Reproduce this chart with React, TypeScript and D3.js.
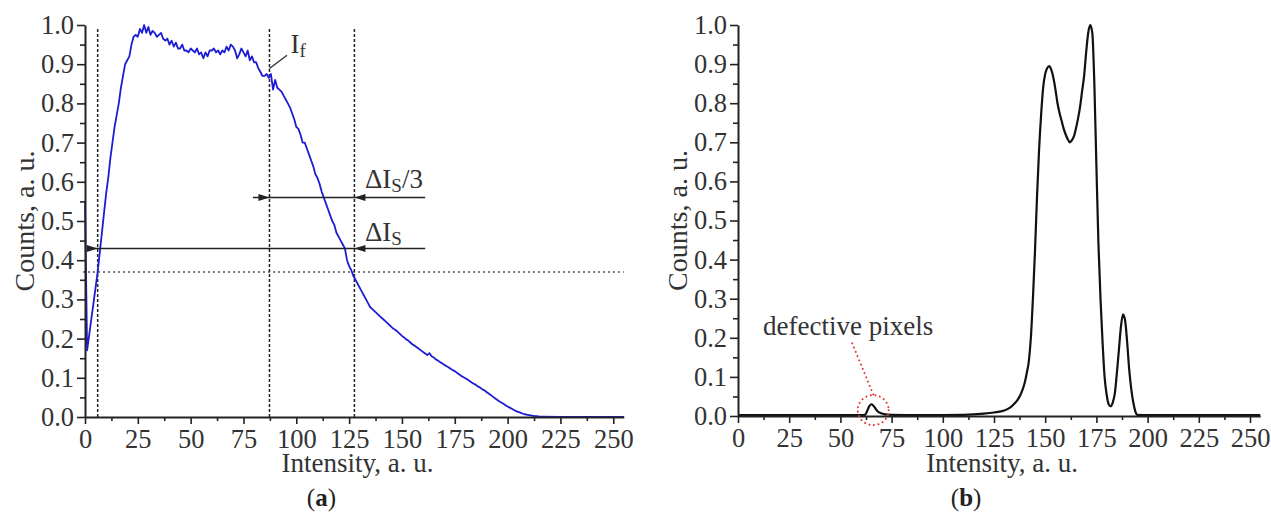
import { useRef, useEffect } from 'react';
import * as d3 from 'd3';

// (a) normalised histogram, one value per intensity level 0..216, zero afterwards
const countsA = [
  0.55, 0.17, 0.21, 0.25, 0.29, 0.33, 0.37, 0.42, 0.47, 0.52,
  0.57, 0.61, 0.66, 0.70, 0.74, 0.77, 0.80, 0.84, 0.87, 0.90,
  0.91, 0.92, 0.95, 0.97, 0.975, 0.97, 0.99, 0.98, 1.0, 0.98,
  0.995, 0.975, 0.985, 0.98, 0.97, 0.975, 0.98, 0.965, 0.96, 0.965,
  0.95, 0.96, 0.945, 0.955, 0.94, 0.94, 0.95, 0.935, 0.935, 0.93,
  0.94, 0.935, 0.93, 0.94, 0.925, 0.93, 0.915, 0.93, 0.92, 0.935,
  0.935, 0.94, 0.93, 0.935, 0.925, 0.935, 0.93, 0.945, 0.935, 0.95,
  0.945, 0.935, 0.915, 0.925, 0.94, 0.93, 0.92, 0.935, 0.91, 0.92,
  0.905, 0.905, 0.89, 0.88, 0.87, 0.87, 0.875, 0.865, 0.875, 0.835,
  0.86, 0.84, 0.835, 0.83, 0.82, 0.81, 0.80, 0.79, 0.775, 0.76,
  0.74, 0.735, 0.72, 0.70, 0.70, 0.685, 0.67, 0.655, 0.64, 0.62,
  0.61, 0.595, 0.575, 0.56, 0.545, 0.53, 0.515, 0.50, 0.49, 0.47,
  0.46, 0.45, 0.44, 0.43, 0.40, 0.385, 0.375, 0.36, 0.35, 0.34,
  0.33, 0.32, 0.31, 0.30, 0.29, 0.28, 0.275, 0.27, 0.265, 0.26,
  0.255, 0.25, 0.245, 0.24, 0.235, 0.23, 0.225, 0.222, 0.217, 0.212,
  0.207, 0.203, 0.198, 0.195, 0.19, 0.185, 0.182, 0.178, 0.174, 0.17,
  0.166, 0.162, 0.158, 0.163, 0.155, 0.152, 0.147, 0.144, 0.14, 0.137,
  0.133, 0.13, 0.127, 0.123, 0.12, 0.117, 0.113, 0.109, 0.105, 0.102,
  0.099, 0.096, 0.092, 0.088, 0.085, 0.082, 0.078, 0.075, 0.071, 0.068,
  0.064, 0.06, 0.056, 0.052, 0.048, 0.044, 0.04, 0.037, 0.034, 0.03,
  0.027, 0.024, 0.021, 0.018, 0.015, 0.013, 0.011, 0.009, 0.007, 0.006,
  0.005, 0.004, 0.003, 0.002, 0.002, 0.001, 0.001,
];
const intensityA = d3.range(countsA.length).concat([225, 255]);
const valuesA = countsA.concat([0, 0]);

// (b) smooth histogram
const intensityB = [
  0, 60, 62, 63, 64, 65, 66, 67, 68, 70, 72, 75, 90, 110, 120, 125, 130, 133, 135, 137,
  139, 140, 141, 142, 143, 144, 145, 146, 147, 148, 149, 150, 151, 152, 153, 154, 155, 156,
  157, 158, 159, 160, 161, 162, 163, 164, 165, 166, 167, 168, 169, 170, 171, 172, 173, 174,
  175, 176, 177, 178, 179, 180, 181, 182, 183, 184, 185, 186, 187, 188, 189, 190, 191, 192,
  193, 194, 195, 200, 255,
];
const valuesB = [
  0.002, 0.002, 0.003, 0.012, 0.024, 0.03, 0.027, 0.02, 0.013, 0.007, 0.004, 0.003, 0.002, 0.003, 0.006, 0.009, 0.014, 0.022, 0.032, 0.045,
  0.068, 0.085, 0.11, 0.14, 0.2, 0.3, 0.42, 0.56, 0.68, 0.77, 0.84, 0.875, 0.89, 0.895, 0.885, 0.865, 0.835, 0.80,
  0.775, 0.755, 0.735, 0.72, 0.708, 0.70, 0.705, 0.715, 0.735, 0.76, 0.79, 0.83, 0.87, 0.93, 0.98, 1.0, 0.98, 0.85,
  0.64, 0.44, 0.3, 0.19, 0.1, 0.055, 0.03, 0.025, 0.035, 0.058, 0.11, 0.17, 0.23, 0.26, 0.245, 0.19, 0.12, 0.07,
  0.035, 0.012, 0.003, 0.002, 0.002,
];

const xTicks = [0, 25, 50, 75, 100, 125, 150, 175, 200, 225, 250];
const yTicks = [0, 0.1, 0.2, 0.3, 0.4, 0.5, 0.6, 0.7, 0.8, 0.9, 1.0];

// annotation positions in data units
const thresholdA = 0.37;
const markersA = [6, 87.3, 127.5];

const FONT = '"Liberation Serif", "Times New Roman", serif';
const INK = '#333';
const RED = '#e23a3a';

function drawAxes(svg, x, y) {
  const [x0] = x.range();
  const [y0] = y.range();

  const minorX = xTicks.slice(0, -1).map(d => d + 12.5);
  const minorY = yTicks.slice(0, -1).map(d => d + 0.05);

  svg.append('g')
    .attr('transform', `translate(0,${y0})`)
    .call(d3.axisBottom(x).tickValues(minorX).tickSize(4).tickSizeOuter(0).tickFormat(() => ''))
    .call(g => g.select('.domain').remove());
  svg.append('g')
    .attr('transform', `translate(${x0},0)`)
    .call(d3.axisLeft(y).tickValues(minorY).tickSize(5).tickSizeOuter(0).tickFormat(() => ''))
    .call(g => g.select('.domain').remove());

  const gx = svg.append('g')
    .attr('transform', `translate(0,${y0})`)
    .call(d3.axisBottom(x).tickValues(xTicks).tickSize(7).tickPadding(5).tickSizeOuter(0));
  const gy = svg.append('g')
    .attr('transform', `translate(${x0},0)`)
    .call(d3.axisLeft(y).tickValues(yTicks).tickSize(8).tickPadding(3).tickSizeOuter(0).tickFormat(d3.format('.1f')));

  for (const g of [gx, gy]) {
    g.attr('font-family', FONT).attr('font-size', 26.5);
    g.selectAll('text').attr('fill', INK);
    g.select('.domain').attr('stroke', '#222').attr('stroke-width', 2);
  }
  svg.selectAll('.tick line').attr('stroke', '#222').attr('stroke-width', 1.6);
}

function drawTitles(svg, x, y, panel) {
  const [xa, xb] = x.range();
  const [ya, yb] = y.range();
  svg.append('text')
    .attr('x', (xa + xb) / 2 + 3).attr('y', 472)
    .attr('text-anchor', 'middle')
    .attr('font-family', FONT).attr('font-size', 27).attr('fill', INK)
    .text('Intensity, a. u.');
  svg.append('text')
    .attr('transform', `translate(${xa - 51},${(ya + yb) / 2}) rotate(-90)`)
    .attr('text-anchor', 'middle')
    .attr('font-family', FONT).attr('font-size', 28).attr('fill', INK)
    .text('Counts, a. u.');
  const t = svg.append('text')
    .attr('x', (xa + xb) / 2 - 33).attr('y', 506)
    .attr('text-anchor', 'middle')
    .attr('font-family', FONT).attr('font-size', 25).attr('fill', '#222');
  t.append('tspan').text('(');
  t.append('tspan').attr('font-weight', 'bold').text(panel);
  t.append('tspan').text(')');
}

function arrowHead(svg, px, py, dir) {
  const len = 11, half = 3.5;
  svg.append('path')
    .attr('d', `M${px},${py}L${px - dir * len},${py - half}L${px - dir * len},${py + half}Z`)
    .attr('fill', '#222');
}

function subLabel(svg, px, py, main, sub, tail = '') {
  const t = svg.append('text')
    .attr('x', px).attr('y', py)
    .attr('font-family', FONT).attr('font-size', 27).attr('fill', INK);
  t.append('tspan').text(main);
  t.append('tspan').attr('font-size', 19).attr('dy', 4).text(sub);
  if (tail) t.append('tspan').attr('dy', -4).text(tail);
}

const App = () => {
  const svgRef = useRef();

  useEffect(() => {
    const svg = d3.select(svgRef.current);
    svg.selectAll('*').remove();

    // ---- panel (a) ----
    const xA = d3.scaleLinear().domain([0, 255]).range([85, 85 + 255 * 2.113]);
    const yA = d3.scaleLinear().domain([0, 1]).range([417, 25]);

    svg.append('line')
      .attr('x1', xA(0) - 2).attr('x2', xA(255))
      .attr('y1', yA(thresholdA)).attr('y2', yA(thresholdA))
      .attr('stroke', '#555').attr('stroke-width', 1.5).attr('stroke-dasharray', '2,3');

    markersA.forEach(m => {
      svg.append('line')
        .attr('x1', xA(m)).attr('x2', xA(m))
        .attr('y1', yA(0)).attr('y2', yA(0.995))
        .attr('stroke', '#222').attr('stroke-width', 1.5).attr('stroke-dasharray', '3,2');
    });

    const lineA = d3.line().x((d, i) => xA(intensityA[i])).y(d => yA(d));
    svg.append('path')
      .datum(valuesA)
      .attr('d', lineA)
      .attr('fill', 'none').attr('stroke', '#1c1cd4').attr('stroke-width', 1.8)
      .attr('stroke-linejoin', 'round');

    // ΔIs arrow
    svg.append('line')
      .attr('x1', xA(1)).attr('x2', xA(161))
      .attr('y1', yA(0.43)).attr('y2', yA(0.43))
      .attr('stroke', '#222').attr('stroke-width', 1.4);
    arrowHead(svg, xA(6), yA(0.43), 1);
    arrowHead(svg, xA(127.5), yA(0.43), -1);

    // ΔIs/3 arrow
    svg.append('line')
      .attr('x1', xA(79.5)).attr('x2', xA(161))
      .attr('y1', yA(0.56)).attr('y2', yA(0.56))
      .attr('stroke', '#222').attr('stroke-width', 1.4);
    arrowHead(svg, xA(87.3), yA(0.56), 1);
    arrowHead(svg, xA(127.5), yA(0.56), -1);

    subLabel(svg, xA(132.5), yA(0.584), 'ΔI', 'S', '/3');
    subLabel(svg, xA(132.5), yA(0.45), 'ΔI', 'S');

    // If leader
    svg.append('line')
      .attr('x1', xA(87.3)).attr('y1', yA(0.889))
      .attr('x2', xA(95.6)).attr('y2', yA(0.923))
      .attr('stroke', '#333').attr('stroke-width', 1.4);
    subLabel(svg, xA(97.2), yA(0.929), 'I', 'f');

    drawAxes(svg, xA, yA);
    drawTitles(svg, xA, yA, 'a');

    // ---- panel (b) ----
    const xB = d3.scaleLinear().domain([0, 255]).range([738, 738 + 255 * 2.048]);
    const yB = d3.scaleLinear().domain([0, 1]).range([416, 25]);

    const lineB = d3.line().x((d, i) => xB(intensityB[i])).y(d => yB(d)).curve(d3.curveMonotoneX);
    svg.append('path')
      .datum(valuesB)
      .attr('d', lineB)
      .attr('fill', 'none').attr('stroke', '#111').attr('stroke-width', 2.2)
      .attr('stroke-linejoin', 'round');

    drawAxes(svg, xB, yB);
    drawTitles(svg, xB, yB, 'b');

    // defective pixels annotation
    svg.append('ellipse')
      .attr('cx', xB(66)).attr('cy', yB(0.015))
      .attr('rx', 15.5).attr('ry', 15)
      .attr('fill', 'none').attr('stroke', RED).attr('stroke-width', 2)
      .attr('stroke-linecap', 'round').attr('stroke-dasharray', '0.1,4.5');
    svg.append('line')
      .attr('x1', xB(55.8)).attr('y1', yB(0.186))
      .attr('x2', xB(66.2)).attr('y2', yB(0.053))
      .attr('stroke', RED).attr('stroke-width', 2)
      .attr('stroke-linecap', 'round').attr('stroke-dasharray', '0.1,4.5');
    svg.append('text')
      .attr('x', xB(12.2)).attr('y', yB(0.207))
      .attr('font-family', FONT).attr('font-size', 27).attr('fill', INK)
      .text('defective pixels');
  }, []);

  return (
    <svg ref={svgRef} width="1271" height="513"
      style={{ position: 'absolute', left: 0, top: 0, background: '#fff' }} />
  );
};

export default App;
